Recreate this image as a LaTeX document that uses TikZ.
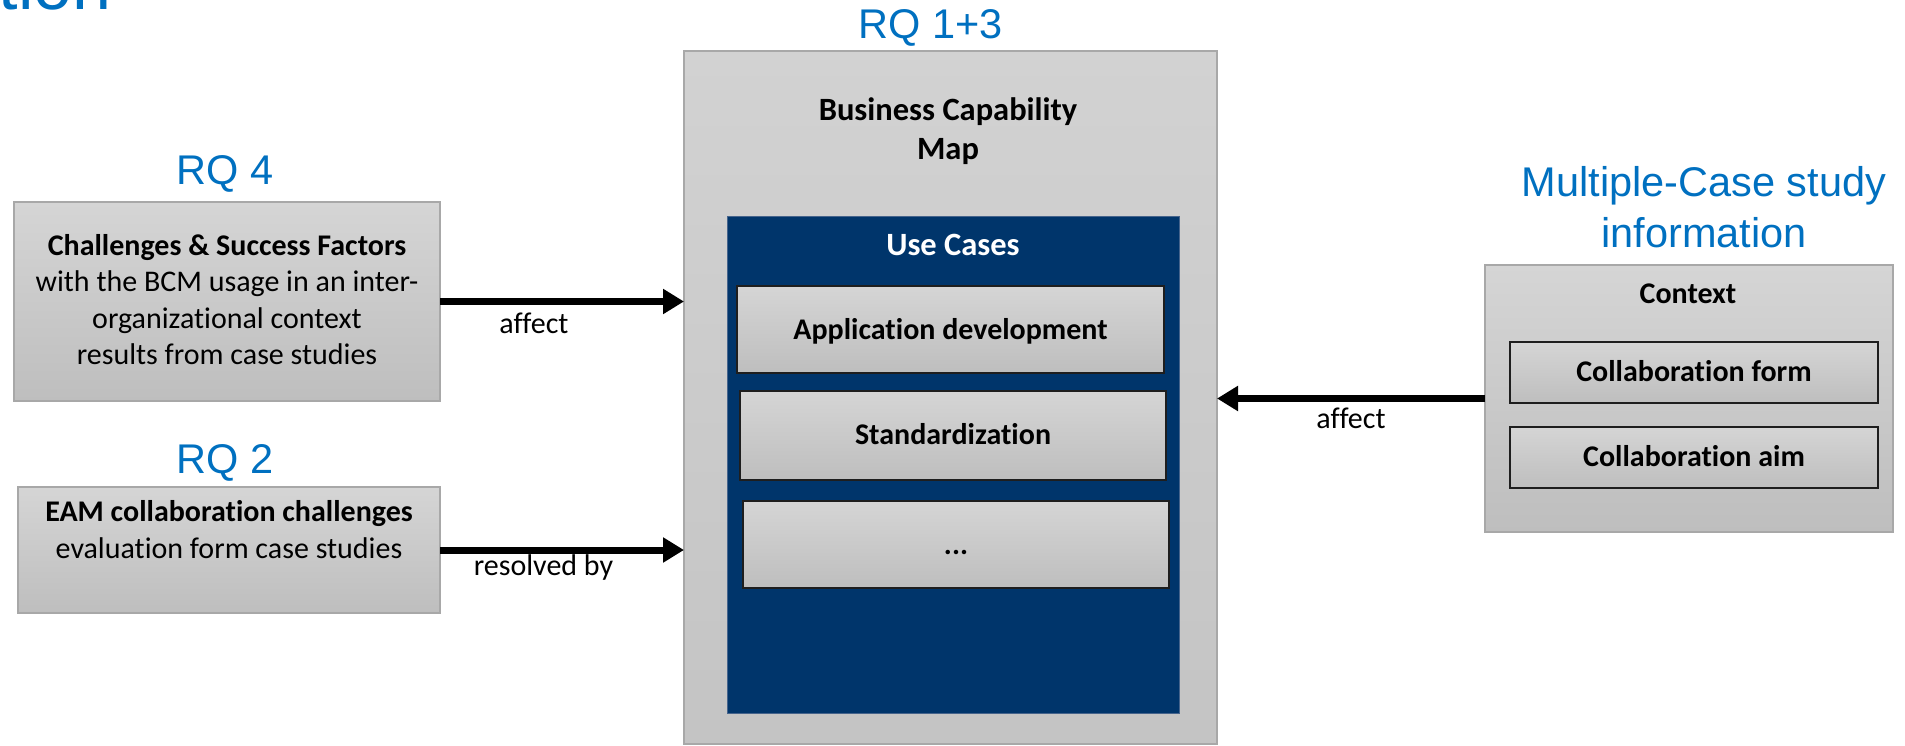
\documentclass[tikz,border=0pt]{standalone}
\usepackage{fontspec}
\setmainfont[Ligatures=NoCommon]{Carlito}
\newfontfamily\arialf{Liberation Sans}
\usetikzlibrary{arrows.meta}
\definecolor{rqblue}{RGB}{0,112,192}
\definecolor{ucblue}{RGB}{0,53,107}
\definecolor{ucedge}{RGB}{70,100,140}
\definecolor{boxtop}{RGB}{213,213,213}
\definecolor{boxbot}{RGB}{190,190,190}
\definecolor{bcmtop}{RGB}{210,210,210}
\definecolor{bcmbot}{RGB}{196,196,196}
\definecolor{boxline}{RGB}{168,168,168}
\definecolor{innline}{RGB}{30,30,30}
\begin{document}
\begin{tikzpicture}[x=1pt,y=-1pt,
  outerbox/.style={draw=boxline, line width=1.5pt, top color=boxtop, bottom color=boxbot, inner sep=0pt, outer sep=0pt},
  innerbox/.style={draw=innline, line width=1.8pt, top color=boxtop, bottom color=boxbot, inner sep=0pt, outer sep=0pt},
  rq/.style={font=\arialf\fontsize{41.5}{51}\selectfont, text=rqblue, inner sep=0pt, anchor=base},
  txt/.style={font=\fontsize{30}{36.5}\selectfont, inner sep=0pt, anchor=base, align=center},
  btxt/.style={font=\fontsize{30}{36.5}\selectfont\bfseries, inner sep=0pt, anchor=base, align=center},
  bigtxt/.style={font=\fontsize{32.5}{39.5}\selectfont\bfseries, inner sep=0pt, anchor=base, align=center},
  conn/.style={line width=7pt, -{Triangle[length=21pt,width=24pt]}},
]
\useasboundingbox (0,0) rectangle (1905,746);

% cut-off title at the top
\node[font=\arialf\fontsize{70}{80}\selectfont, text=rqblue, inner sep=0pt, anchor=base east] (title) at (112,10) {tion};

% headings
\node[rq] (rq13) at (930.5,39) {RQ 1+3};
\node[rq] (rq4) at (225,185) {RQ 4};
\node[rq] (rq2) at (225,473) {RQ 2};
\node[rq, anchor=north, align=center] (mcs) at (1704,160.3) {\strut Multiple-Case study\\information};

% left boxes
\node[outerbox, minimum width=426pt, minimum height=199pt] (chal) at (227,301.5) {};
\node[txt, anchor=north] (chaltxt) at (227,229.45) {\strut\textbf{Challenges \& Success Factors}\\with the BCM usage in an inter-\\organizational context\\results from case studies};

\node[outerbox, minimum width=422pt, minimum height=126pt] (eam) at (229,550) {};
\node[txt, anchor=north] (eamtxt) at (229,496.2) {\strut\textbf{EAM collaboration challenges}\\evaluation form case studies};

% central BCM box
\node[draw=boxline, line width=1.5pt, top color=bcmtop, bottom color=bcmbot, inner sep=0pt, outer sep=0pt, minimum width=533pt, minimum height=693pt] (bcm) at (950.5,397.5) {};
\node[bigtxt, anchor=north] (bcmtxt) at (948,92.35) {\strut Business Capability\\Map};

\node[fill=ucblue, draw=ucedge, line width=1pt, inner sep=0pt, outer sep=0pt, minimum width=452pt, minimum height=497pt] (uc) at (953,464.5) {};
\node[bigtxt, text=white] (uctxt) at (953,255) {Use Cases};

\node[innerbox, minimum width=427pt, minimum height=87pt] (app) at (950.5,329.5) {};
\node[btxt] (apptxt) at (950.5,339) {Application development};
\node[innerbox, minimum width=426pt, minimum height=89pt] (std) at (953,435.5) {};
\node[btxt] (stdtxt) at (953,444) {Standardization};
\node[innerbox, minimum width=426pt, minimum height=87pt] (more) at (956,544.5) {};
\node[btxt] (moretxt) at (956,554) {...};

% right context box
\node[outerbox, minimum width=408pt, minimum height=267pt] (ctx) at (1689,398.5) {};
\node[btxt] (ctxtxt) at (1688,303) {Context};
\node[innerbox, minimum width=368pt, minimum height=61pt] (cform) at (1694,372.5) {};
\node[btxt] (cformtxt) at (1694,381.7) {Collaboration form};
\node[innerbox, minimum width=368pt, minimum height=61pt] (caim) at (1694,457.5) {};
\node[btxt] (caimtxt) at (1694,466.7) {Collaboration aim};

% connectors
\draw[conn] (chal.east) -- (chal.east -| bcm.west)
  node[txt, pos=0.385, yshift=-31.7pt] (l1) {affect};
\draw[conn] (eam.east) -- (eam.east -| bcm.west)
  node[txt, pos=0.424, yshift=-25.7pt] (l2) {resolved by};
\draw[conn] (ctx.west) -- (ctx.west -| bcm.east)
  node[txt, pos=0.5, yshift=-29.5pt] (l3) {affect};
\end{tikzpicture}
\end{document}
